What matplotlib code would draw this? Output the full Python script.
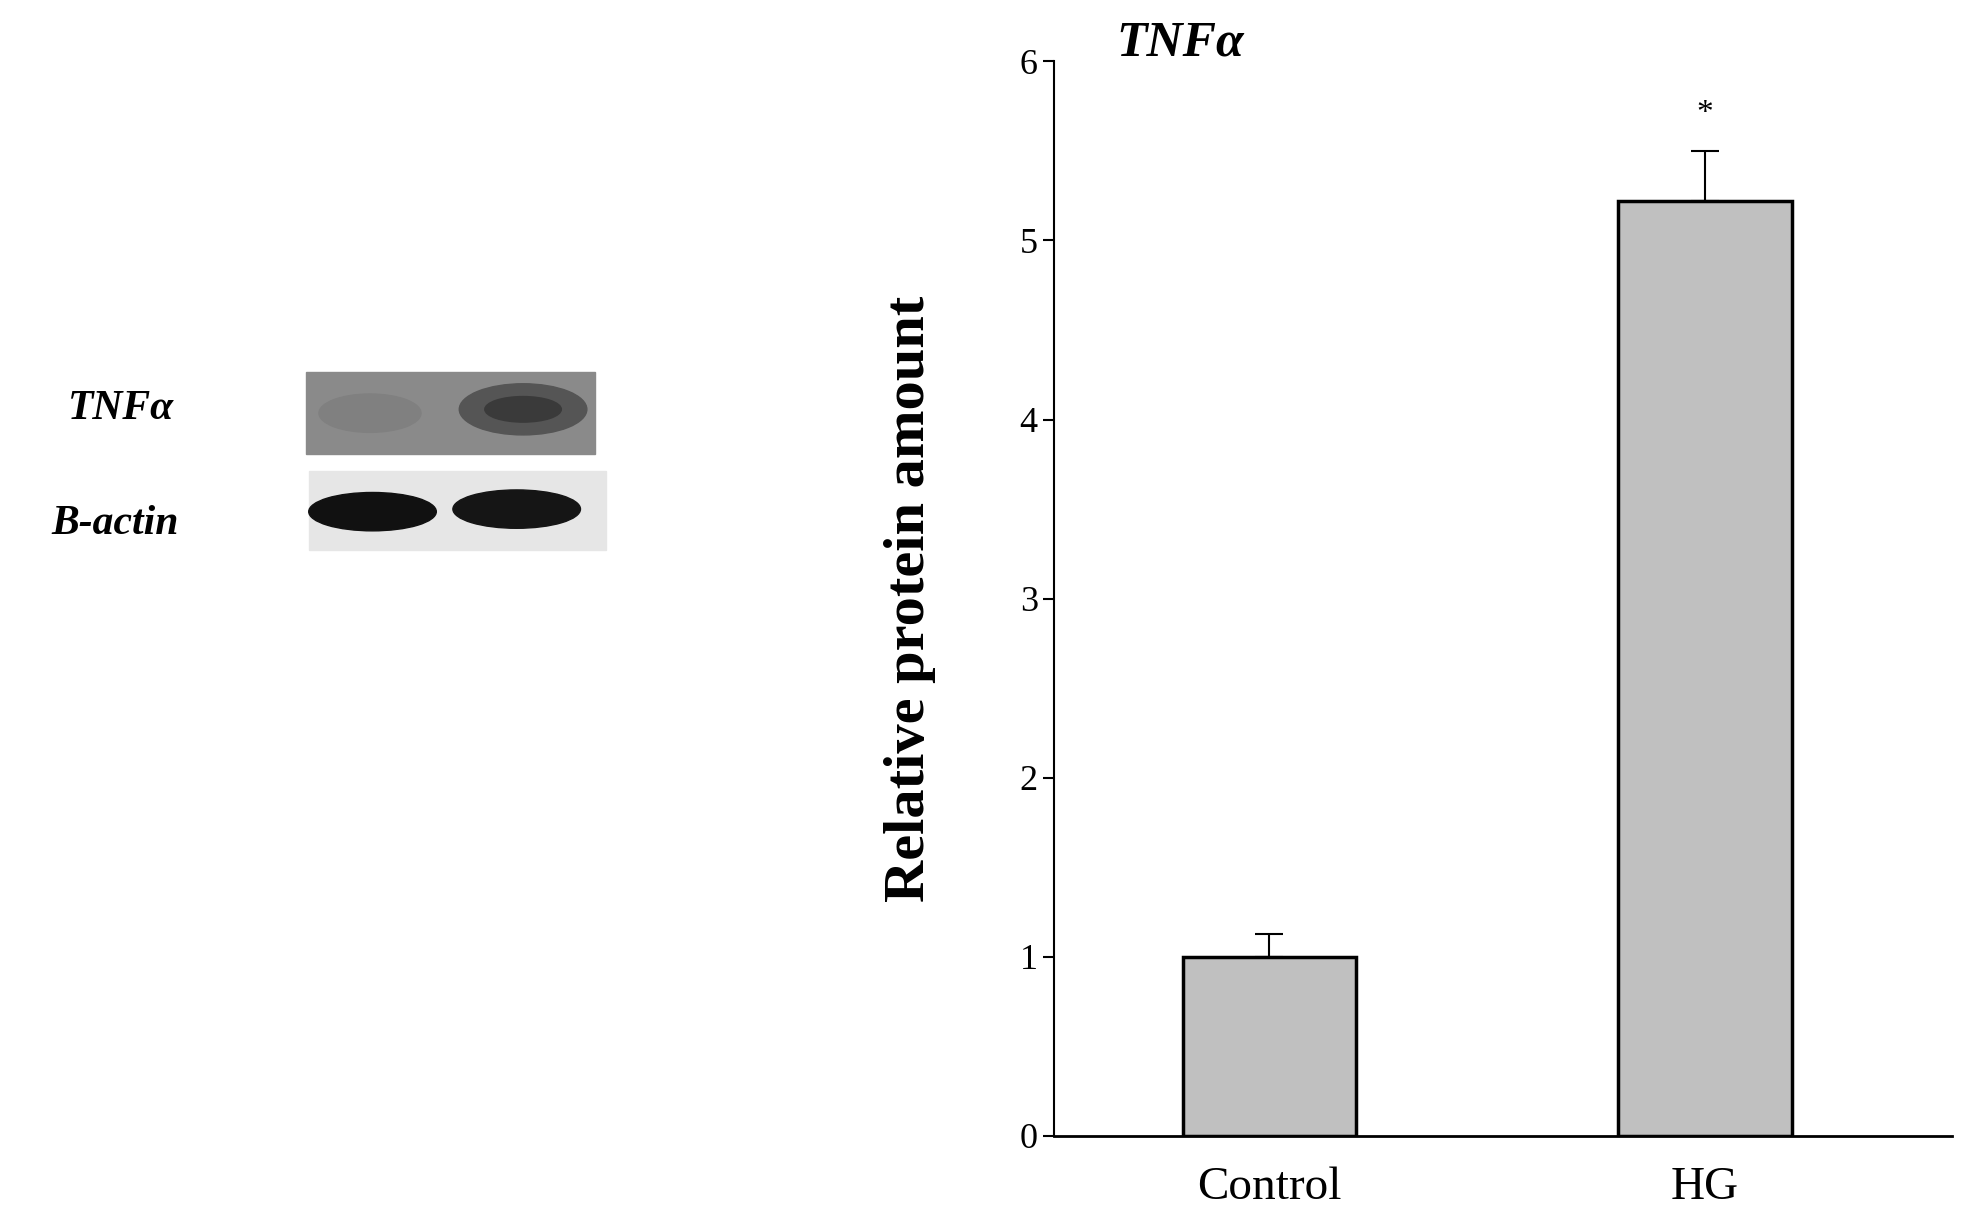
import matplotlib
matplotlib.use("Agg")
import matplotlib.pyplot as plt
from matplotlib.patches import Rectangle, Ellipse

categories = ["Control", "HG"]
values = [1.0, 5.22]
errors = [0.13, 0.28]
yticks = [0, 1, 2, 3, 4, 5, 6]

plt.rcParams['font.family'] = ['Liberation Serif', 'DejaVu Serif']
W, H = 1552, 960
fig = plt.figure(figsize=(19.8, 12.28), dpi=100)

ax = fig.add_axes([826/W, 1-888/H, 704/W, 840/H])
xpos = [0.24, 0.725]
ax.bar(xpos, values, width=0.193, color="#c0c0c0", edgecolor="black", linewidth=2.5, zorder=2)
ax.errorbar(xpos, values, yerr=[[0, 0], errors], fmt="none", ecolor="black",
            elinewidth=1.5, capsize=10, capthick=1.5, zorder=1)
ax.set_xlim(0, 1)
ax.set_ylim(0, 6)
ax.set_yticks(yticks)
ax.set_xticks(xpos)
ax.set_xticklabels(categories, fontsize=34)
ax.tick_params(axis='y', labelsize=26, length=8, width=1.5)
ax.tick_params(axis='x', length=0, pad=22)
for s in ["top", "right"]:
    ax.spines[s].set_visible(False)
ax.spines["left"].set_linewidth(1.5)
ax.spines["bottom"].set_linewidth(2)
ax.set_ylabel("Relative protein amount", fontsize=42, fontweight="bold", labelpad=60)
ax.text(xpos[1], values[1] + errors[1] + 0.12, "*", ha="center", va="bottom", fontsize=24)
ax.text(0.07, 6.1, "TNFα", fontsize=36, fontweight="bold", fontstyle="italic", va="center")

# western blot panel
bx = fig.add_axes([0, 0, 1, 1], facecolor="none")
bx.set_xlim(0, W); bx.set_ylim(H, 0); bx.axis("off")
bx.add_patch(Rectangle((240, 291), 226, 64, color="#8a8a8a"))
bx.add_patch(Ellipse((290, 323), 80, 30, color="#808080"))
bx.add_patch(Ellipse((410, 320), 100, 40, color="#555555"))
bx.add_patch(Ellipse((410, 320), 60, 20, color="#3a3a3a"))
bx.add_patch(Rectangle((242, 368), 233, 62, color="#e6e6e6"))
bx.add_patch(Ellipse((292, 400), 100, 30, color="#111111"))
bx.add_patch(Ellipse((405, 398), 100, 30, color="#151515"))
bx.text(95, 320, "TNFα", fontsize=30, fontweight="bold", fontstyle="italic", ha="center", va="center")
bx.text(90, 410, "B-actin", fontsize=30, fontweight="bold", fontstyle="italic", ha="center", va="center")

fig.savefig("out.png", dpi=100, facecolor="white")
